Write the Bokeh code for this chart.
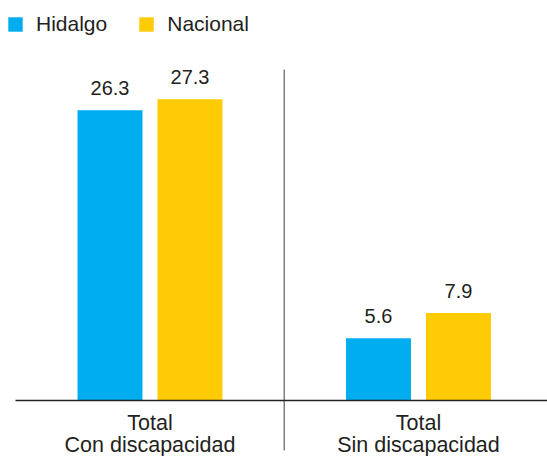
from bokeh.plotting import figure
from bokeh.models import ColumnDataSource, Range1d, FixedTicker, Legend, LegendItem
from bokeh.transform import dodge
from bokeh.core.properties import value
from bokeh.embed import file_html
from bokeh.resources import INLINE

# ---- data ----
categories = ["Total\nCon discapacidad", "Total\nSin discapacidad"]
series = ["Hidalgo", "Nacional"]
hidalgo = [26.3, 5.6]
nacional = [27.3, 7.9]
colors = ["#00AEEF", "#FFCB05"]
value_max = 30  # top of the value scale (where the divider starts)

FONT = "Liberation Sans"
TXT = "#231F20"

idx = list(range(len(categories)))
src = ColumnDataSource(dict(
    x=idx,
    hidalgo=hidalgo,
    nacional=nacional,
    hidalgo_lbl=[f"{v:.1f}" for v in hidalgo],
    nacional_lbl=[f"{v:.1f}" for v in nacional],
))

W, H = 547, 456
px_x = 268.5   # pixels per category
px_y = 11.02   # pixels per unit
x0 = -149.5 / px_x
y1 = 399.5 / px_y
p = figure(width=W, height=H, output_backend="svg", toolbar_location=None,
           x_range=Range1d(x0, x0 + W / px_x), y_range=Range1d(y1 - H / px_y, y1),
           y_axis_location=None,
           min_border_left=0, min_border_right=0, min_border_top=0, min_border_bottom=0)
p.outline_line_color = None
p.xgrid.visible = False
p.ygrid.visible = False
p.background_fill_color = "white"
p.border_fill_color = "white"

off = 0.149
bw = 0.242
r1 = p.vbar(x=dodge("x", -off), top="hidalgo", width=bw, source=src,
            fill_color=colors[0], line_color=None)
r2 = p.vbar(x=dodge("x", off), top="nacional", width=bw, source=src,
            fill_color=colors[1], line_color=None)

for key, o in (("hidalgo", -off), ("nacional", off)):
    p.text(x=dodge("x", o), y=key, text=key + "_lbl", source=src,
           y_offset=-22, text_align="center", text_baseline="alphabetic",
           text_font=value(FONT), text_font_size="20px", text_color=TXT)

# divider between the two categories
sep_x = (idx[0] + idx[1]) / 2
p.segment(x0=[sep_x], y0=[value_max], x1=[sep_x], y1=[-50.5 / px_y],
          line_color="#7f7f7f", line_width=1.5)

ax = p.xaxis[0]
ax.fixed_location = 0
ax.bounds = (x0 + 14.7 / px_x, x0 + W / px_x)
ax.ticker = FixedTicker(ticks=idx)
ax.major_label_overrides = {i: c for i, c in zip(idx, categories)}
ax.axis_line_color = "#222222"
ax.axis_line_width = 1.5
ax.major_tick_line_color = None
ax.minor_tick_line_color = None
ax.major_label_standoff = 5
ax.major_label_text_font = FONT
ax.major_label_text_font_size = "21.5px"
ax.major_label_text_color = TXT
ax.major_label_text_line_height = 0.9

legend = Legend(items=[LegendItem(label=series[0], renderers=[r1]),
                       LegendItem(label=series[1], renderers=[r2])],
                location=(6, H - 36), orientation="horizontal",
                glyph_width=18, glyph_height=18, label_standoff=12, spacing=30,
                padding=0, margin=0, border_line_color=None, background_fill_alpha=0,
                label_text_font=FONT, label_text_font_size="21px", label_text_color=TXT,
                label_height=14)
p.add_layout(legend)

open("out.html", "w").write(file_html(p, INLINE))
